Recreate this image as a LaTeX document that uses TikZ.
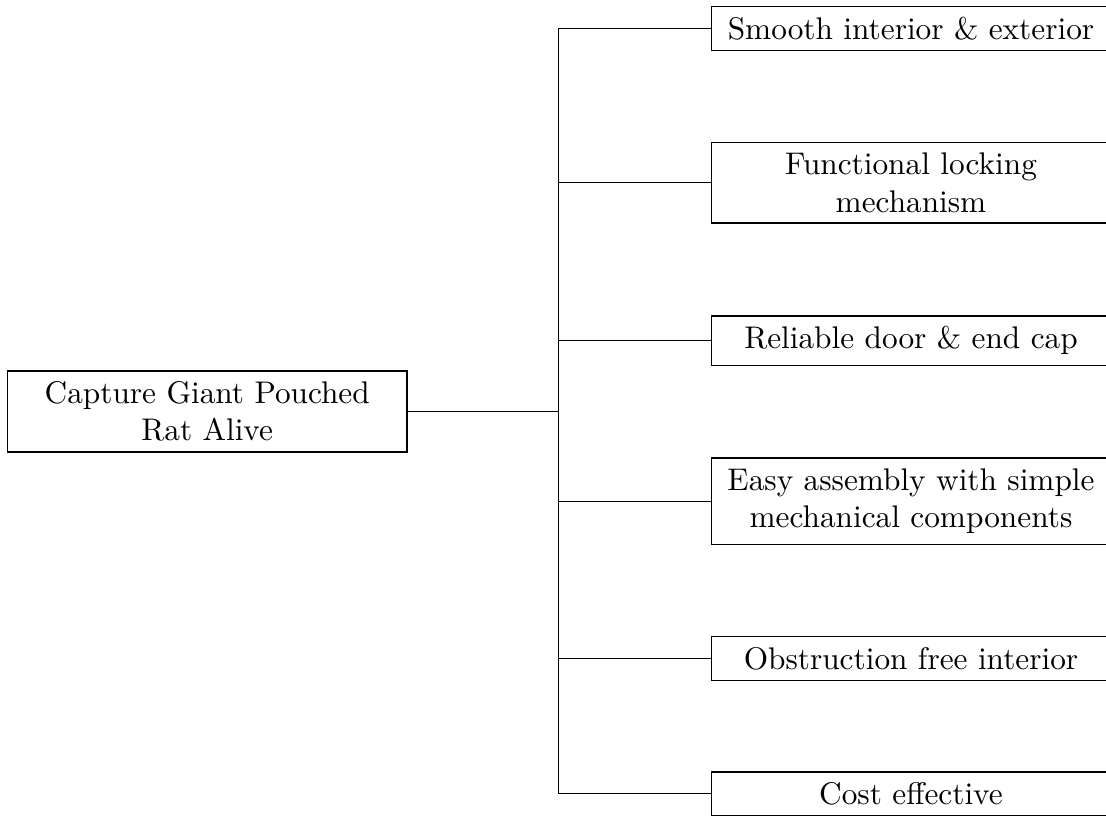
\documentclass[tikz,border=0pt]{standalone}
\usepackage{amsmath}
\usepackage{amssymb}
\usepackage{tikz}

\begin{document}
\begin{tikzpicture}[caixa/.style={draw, text width=4.25cm, align=flush center}]
  \useasboundingbox (0, 0) rectangle (12.42, -9.152);

  % Objetivo
  \node[caixa] (goal) at (2.327, -4.621) {Capture Giant Pouched Rat Alive};
  \coordinate (tronco) at (6.274, -4.621);

  % Requisitos
  \node[caixa, anchor=west] (r1) at (7.981, -0.322) {Smooth interior \& exterior};
  \node[caixa, anchor=west] (r2) at (7.981, -2.053) {Functional locking mechanism};
  \node[caixa, anchor=west] (r3) at (7.981, -3.824) {Reliable door \& end cap};
  \node[caixa, anchor=west] (r4) at (7.981, -5.628) {Easy assembly with simple mechanical components};
  \node[caixa, anchor=west] (r5) at (7.981, -7.393) {Obstruction free interior};
  \node[caixa, anchor=west] (r6) at (7.981, -8.913) {Cost effective};

  % Linhas
  \foreach \n in {r1, r2, r3, r4, r5, r6}
    \draw (goal.east) -- (tronco) |- (\n.west);
\end{tikzpicture}
\end{document}
